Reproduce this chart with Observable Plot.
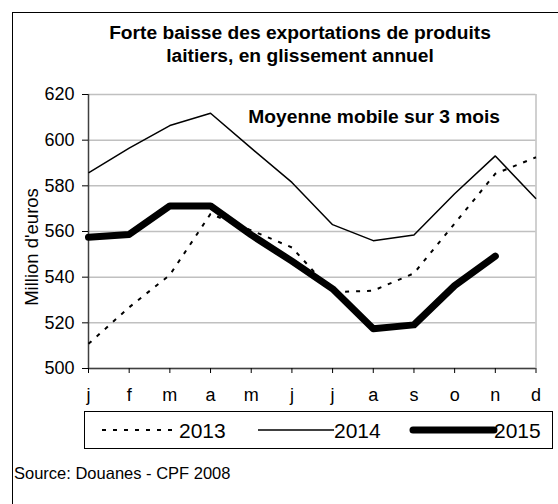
<!DOCTYPE html>
<html>
<head>
<meta charset="utf-8">
<script src="https://cdn.jsdelivr.net/npm/d3@7"></script>
<script src="https://cdn.jsdelivr.net/npm/@observablehq/plot@0.6"></script>
<style>
  body { margin: 0; background: white; }
  #wrap { position: relative; width: 558px; height: 504px; overflow: hidden; background: white;
          font-family: "Liberation Sans", Arial, sans-serif; color: black; }
  #frame { position: absolute; left: 12px; top: 12px; width: 700px; height: 700px; border: 1.5px solid black; box-sizing: border-box; pointer-events: none; }
  #title { position: absolute; left: 40px; width: 520px; top: 21px; text-align: center; font-weight: bold; font-size: 19.2px; line-height: 23px; }
  #chart { position: absolute; left: 0; top: 0; }
  #ylabel { position: absolute; left: 32px; top: 247px; transform: translate(-50%, -50%) rotate(-90deg); font-size: 18.5px; white-space: nowrap; }
  #legend { position: absolute; left: 84px; top: 411px; width: 469px; height: 38px; border: 1px solid black; box-sizing: border-box; }
  #legend .lab { position: absolute; top: 50%; transform: translateY(-50%); font-size: 21px; line-height: 21px; }
  #source { position: absolute; left: 14px; top: 464px; font-size: 16.5px; white-space: nowrap; }
</style>
</head>
<body>
<div id="wrap">
  <div id="title"></div>
  <div id="chart"></div>
  <div id="ylabel"></div>
  <div id="legend"></div>
  <div id="source"></div>
  <div id="frame"></div>
</div>
<script>
// ---- data ----
const months = ["j","f","m","a","m","j","j","a","s","o","n","d"];
const years = ["2013","2014","2015"];
const v2013 = [510.8, 526.8, 541.0, 567.7, 560.5, 553.0, 533.4, 534.1, 541.7, 563.5, 585.3, 592.5];
const v2014 = [585.7, 596.5, 606.4, 611.8, 596.5, 581.5, 563.0, 556.0, 558.5, 576.5, 593.1, 574.3];
const v2015 = [557.5, 558.7, 571.2, 571.2, 558.5, 547.0, 534.9, 517.4, 519.1, 536.3, 549.2];
const yTicks = [500, 520, 540, 560, 580, 600, 620];
const titleText = ["Forte baisse des exportations de produits", "laitiers, en glissement annuel"];
const noteText = "Moyenne mobile sur 3 mois";
const yLabelText = "Million d'euros";
const sourceText = "Source: Douanes - CPF 2008";

// ---- styles (separate from data) ----
const seriesStyle = {
  "2013": {stroke: "black", strokeWidth: 2, strokeDasharray: "4,7"},
  "2014": {stroke: "black", strokeWidth: 1.5},
  "2015": {stroke: "black", strokeWidth: 7}
};
const legendPos = [
  {x1: 17, x2: 94, tx: 94},
  {x1: 173, x2: 249, tx: 249},
  {x1: 328, x2: 409, tx: 409}
];

const series = {"2013": v2013, "2014": v2014, "2015": v2015};
const rows = y => series[y].map((v, i) => ({i, v}));

const chart = Plot.plot({
  width: 558,
  height: 410,
  marginLeft: 88,
  marginRight: 22.5,
  marginTop: 94,
  marginBottom: 42,
  style: {background: "transparent", fontFamily: "'Liberation Sans', Arial, sans-serif", color: "black", overflow: "visible"},
  x: {type: "linear", domain: [0, months.length - 1], axis: null, label: null},
  y: {domain: [yTicks[0], yTicks[yTicks.length - 1]], axis: null, label: null},
  marks: [
    Plot.gridY(yTicks, {stroke: "#c0c0c0", strokeOpacity: 1, strokeWidth: 1.5}),
    Plot.ruleX([months.length - 1], {stroke: "#c0c0c0", strokeWidth: 1.5}),
    Plot.ruleY([yTicks[0]], {stroke: "#404040", strokeWidth: 1.5}),
    Plot.ruleX([0], {stroke: "#404040", strokeWidth: 1.5}),
    Plot.axisY(yTicks, {label: null, tickSize: 6, tickPadding: 8, fontSize: 18, tickFormat: d => String(d)}),
    Plot.axisX(d3.range(months.length), {label: null, tickSize: 5, tickPadding: 15, fontSize: 18, tickFormat: i => months[i]}),
    ...years.map(y => Plot.line(rows(y), {x: "i", y: "v", ...seriesStyle[y], strokeLinejoin: "round", strokeLinecap: y === "2015" ? "round" : "butt"})),
    Plot.text([noteText], {text: d => d, frameAnchor: "top-right", textAnchor: "end", lineAnchor: "top", dx: -36, dy: 15, fontSize: 19.2, fontWeight: "bold"})
  ]
});
document.getElementById("chart").appendChild(chart);

document.getElementById("title").innerHTML = titleText.join("<br>");
document.getElementById("ylabel").textContent = yLabelText;
document.getElementById("source").textContent = sourceText;

const legend = document.getElementById("legend");
years.forEach((y, k) => {
  const p = legendPos[k];
  const s = seriesStyle[y];
  const svgNS = "http://www.w3.org/2000/svg";
  const svg = document.createElementNS(svgNS, "svg");
  svg.setAttribute("width", 467);
  svg.setAttribute("height", 36);
  svg.style.position = "absolute";
  svg.style.left = "0px";
  svg.style.top = "0px";
  const line = document.createElementNS(svgNS, "line");
  line.setAttribute("x1", p.x1);
  line.setAttribute("x2", p.x2);
  line.setAttribute("y1", 18);
  line.setAttribute("y2", 18);
  line.setAttribute("stroke", s.stroke);
  line.setAttribute("stroke-width", s.strokeWidth);
  if (s.strokeDasharray) line.setAttribute("stroke-dasharray", s.strokeDasharray);
  if (y === "2015") line.setAttribute("stroke-linecap", "round");
  svg.appendChild(line);
  legend.appendChild(svg);
  const lab = document.createElement("div");
  lab.className = "lab";
  lab.style.left = p.tx + "px";
  lab.textContent = y;
  legend.appendChild(lab);
});
</script>
</body>
</html>
